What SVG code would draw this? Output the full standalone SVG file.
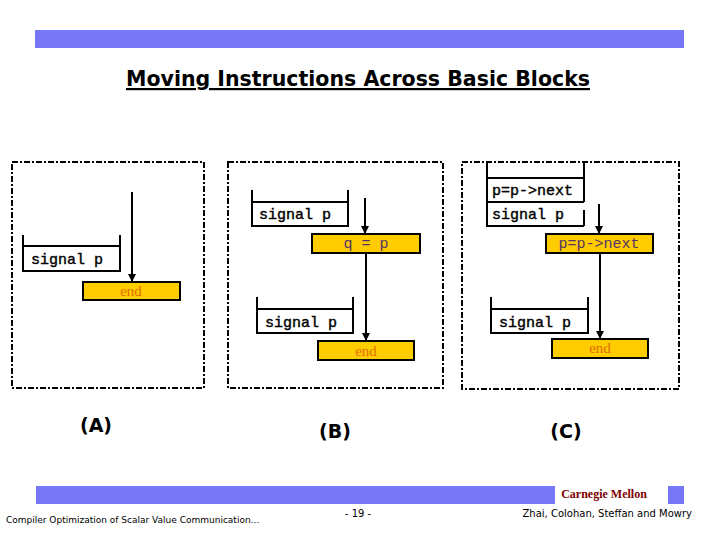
<svg xmlns="http://www.w3.org/2000/svg" width="720" height="540" viewBox="0 0 720 540">
<defs>
<style>
.panel{fill:none;stroke:#000;stroke-width:2;stroke-dasharray:6 2 2 2}
.br{fill:none;stroke:#000;stroke-width:2}
.ob{fill:#ffcc00;stroke:#000;stroke-width:2}
.code{font-family:"Liberation Mono",monospace;font-size:15px;fill:#000;stroke:#000;stroke-width:0.4}
.ocode{font-family:"Liberation Mono",monospace;font-size:15px;fill:#553366}
.end{font-family:"Liberation Serif",serif;font-size:15px;fill:#e07000}
.lbl{font-family:"DejaVu Sans",sans-serif;font-size:19px;font-weight:bold;fill:#000}
.ln{stroke:#000;stroke-width:2}
</style>
<marker id="ah" markerWidth="8" markerHeight="8" refX="7" refY="4" orient="auto" markerUnits="userSpaceOnUse">
<path d="M0,0 L8,4 L0,8 Z" fill="#000"/>
</marker>
</defs>
<rect width="720" height="540" fill="#fff"/>
<rect x="35" y="30" width="649" height="18" fill="#7777f7"/>
<text x="358" y="86" text-anchor="middle" font-family="DejaVu Sans, sans-serif" font-size="22" font-weight="bold" textLength="464" lengthAdjust="spacingAndGlyphs" fill="#000" text-decoration="underline">Moving Instructions Across Basic Blocks</text>
<g id="panelA">
<rect class="panel" x="12" y="162" width="192" height="226"/>
<path class="br" d="M23,235 V271 H120 V235 M23,246 H120"/>
<text class="code" x="31" y="264">signal p</text>
<rect class="ob" x="83" y="282" width="97" height="18"/>
<text class="end" x="131" y="296" text-anchor="middle">end</text>
<text class="lbl" x="96" y="432" text-anchor="middle">(A)</text>
</g>
<g id="panelB">
<rect class="panel" x="228" y="162" width="215" height="226"/>
<path class="br" d="M252,190 V226 H348 V190 M252,202 H348"/>
<text class="code" x="259" y="219">signal p</text>
<rect class="ob" x="312" y="234" width="108" height="19"/>
<text class="ocode" x="366" y="248" text-anchor="middle">q = p</text>
<path class="br" d="M257,297 V333 H353 V297 M257,309 H353"/>
<text class="code" x="265" y="327">signal p</text>
<rect class="ob" x="318" y="341" width="96" height="19"/>
<text class="end" x="366" y="356" text-anchor="middle">end</text>
<text class="lbl" x="335" y="438" text-anchor="middle">(B)</text>
</g>
<g id="panelC">
<rect class="panel" x="462" y="162" width="217" height="227"/>
<path class="br" d="M487,162 V226 H584 M584,162 V202 M584,210 V226 M487,178 H584 M487,202 H584"/>
<text class="code" x="492" y="195">p=p-&gt;next</text>
<text class="code" x="492" y="219">signal p</text>
<rect class="ob" x="546" y="234" width="107" height="19"/>
<text class="ocode" x="599" y="248" text-anchor="middle">p=p-&gt;next</text>
<path class="br" d="M491,297 V333 H588 V297 M491,309 H588"/>
<text class="code" x="499" y="327">signal p</text>
<rect class="ob" x="552" y="339" width="96" height="19"/>
<text class="end" x="600" y="353" text-anchor="middle">end</text>
<text class="lbl" x="566" y="438" text-anchor="middle">(C)</text>
</g>
<g id="connectors">
<line class="ln" x1="132" y1="192" x2="132" y2="281" marker-end="url(#ah)"/>
<line class="ln" x1="365" y1="198" x2="365" y2="233" marker-end="url(#ah)"/>
<line class="ln" x1="366" y1="253" x2="366" y2="340" marker-end="url(#ah)"/>
<line class="ln" x1="599" y1="204" x2="599" y2="233" marker-end="url(#ah)"/>
<line class="ln" x1="600" y1="253" x2="600" y2="338" marker-end="url(#ah)"/>
</g>
<rect x="36" y="486" width="519" height="18" fill="#7777f7"/>
<rect x="668" y="486" width="16" height="18" fill="#7777f7"/>
<text x="604" y="498" text-anchor="middle" font-family="Liberation Serif, serif" font-size="12" font-weight="bold" fill="#800000">Carnegie Mellon</text>
<text x="6" y="523" font-family="DejaVu Sans, sans-serif" font-size="9" fill="#000">Compiler Optimization of Scalar Value Communication…</text>
<text x="358" y="517" text-anchor="middle" font-family="DejaVu Sans, sans-serif" font-size="10" fill="#000">- 19 -</text>
<text x="692" y="517" text-anchor="end" font-family="DejaVu Sans, sans-serif" font-size="10" fill="#000">Zhai, Colohan, Steffan and Mowry</text>
</svg>
